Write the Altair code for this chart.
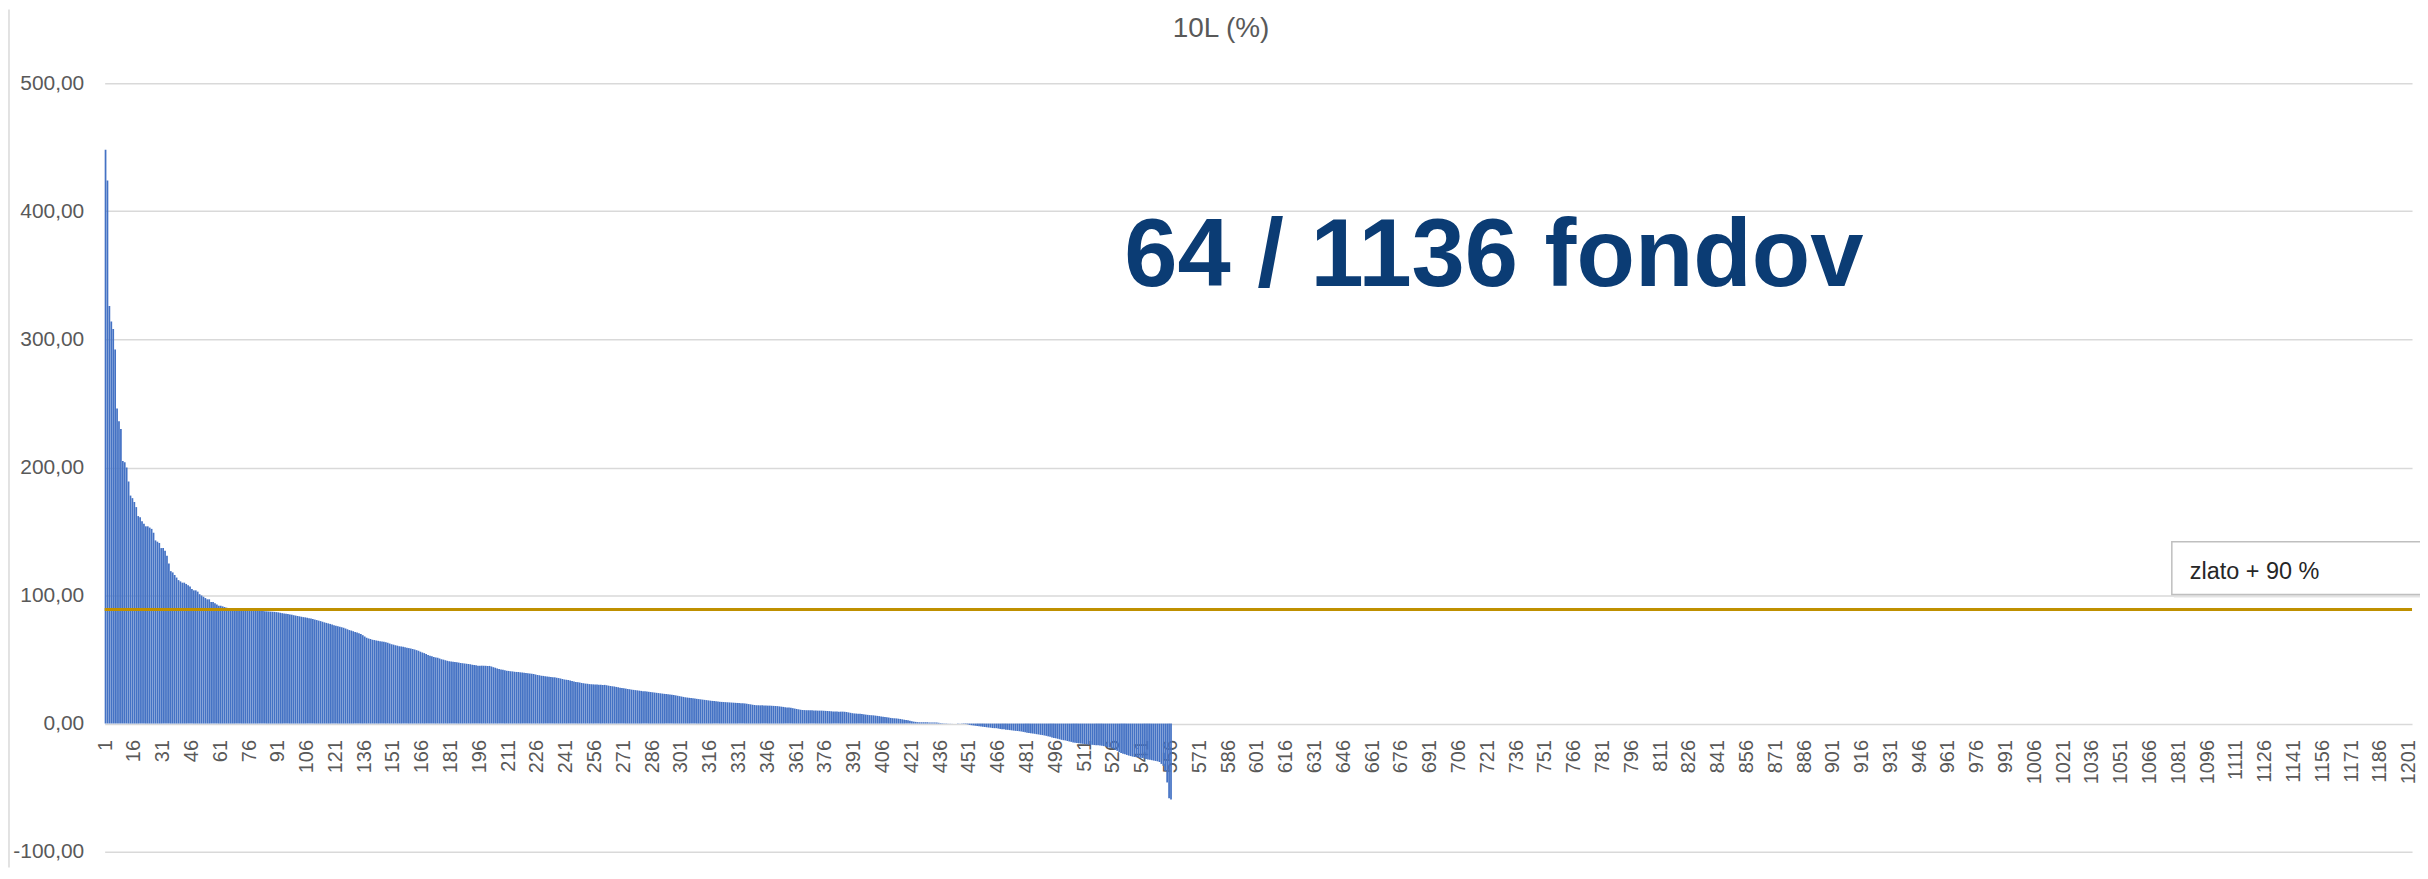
import altair as alt
import pandas as pd

# --- data (10-year return in %, funds sorted descending) ---
fund_returns = [
    448, 424, 326, 314, 308, 292, 246, 236, 230, 205,
    204, 200, 189, 178, 176, 173, 169, 162, 161, 158,
    156, 154, 154, 153, 152, 149, 143, 142, 141, 137,
    137, 135, 131, 125, 119, 118, 116, 114, 112, 111,
    110, 110, 109, 108, 107, 105, 104, 104, 103, 101,
    100, 99, 98, 97, 97, 95, 95, 94, 93, 92,
    92, 91.5, 91, 90.5, 89.3, 89.2, 89.1, 89.0, 88.9, 88.9,
    88.8, 88.7, 88.6, 88.5, 88.4, 88.3, 88.2, 88.1, 88.0, 88.0,
    88.0, 87.9, 87.8, 87.7, 87.6, 87.5, 87.4, 87.3, 87.2, 87.0,
    86.8, 86.5, 86.2, 86.0, 85.8, 85.5, 85.2, 85.0, 84.6, 84.3,
    84.0, 83.7, 83.4, 83.1, 82.9, 82.6, 82.3, 82.0, 81.6, 81.2,
    80.8, 80.4, 80.0, 79.5, 79.0, 78.6, 78.2, 77.8, 77.3, 76.8,
    76.4, 76.0, 75.6, 75.2, 74.8, 74.2, 73.6, 73.0, 72.6, 72.1,
    71.5, 71.0, 70.5, 70.0, 69.0, 68.0, 67.0, 66.5, 66.0, 65.5,
    65.2, 64.9, 64.6, 64.3, 64.0, 63.8, 63.5, 63.0, 62.5, 62.0,
    61.6, 61.2, 60.8, 60.4, 60.2, 60.0, 59.6, 59.2, 58.9, 58.6,
    58.2, 57.8, 57.3, 56.8, 56.1, 55.5, 55.0, 54.4, 53.5, 53.0,
    52.5, 52.0, 51.6, 51.3, 50.8, 50.3, 49.9, 49.5, 49.0, 48.7,
    48.5, 48.3, 48.1, 47.8, 47.6, 47.3, 47.1, 46.9, 46.7, 46.5,
    46.3, 46.0, 45.8, 45.5, 45.2, 45.2, 45.2, 45.1, 45.1, 45.0,
    45.0, 44.6, 44.0, 43.5, 43.0, 42.6, 42.3, 42.0, 41.6, 41.3,
    41.1, 40.9, 40.7, 40.5, 40.3, 40.2, 40.0, 39.8, 39.6, 39.5,
    39.3, 39.1, 38.9, 38.6, 38.3, 38.0, 37.7, 37.4, 37.2, 37.0,
    36.8, 36.6, 36.4, 36.2, 36.1, 35.8, 35.5, 35.1, 34.8, 34.4,
    34.2, 34.0, 33.6, 33.2, 32.8, 32.5, 32.3, 32.0, 31.7, 31.4,
    31.2, 31.0, 30.8, 30.7, 30.6, 30.5, 30.4, 30.3, 30.3, 30.2,
    30.2, 29.9, 29.6, 29.3, 29.1, 28.9, 28.6, 28.3, 28.0, 27.8,
    27.5, 27.3, 27.0, 26.8, 26.5, 26.3, 26.1, 25.9, 25.7, 25.5,
    25.3, 25.2, 25.0, 24.8, 24.6, 24.4, 24.2, 24.0, 23.8, 23.6,
    23.4, 23.2, 23.0, 22.8, 22.6, 22.5, 22.3, 22.0, 21.7, 21.4,
    21.1, 20.8, 20.5, 20.3, 20.1, 19.9, 19.7, 19.5, 19.3, 19.1,
    18.9, 18.7, 18.5, 18.3, 18.1, 17.9, 17.7, 17.6, 17.4, 17.2,
    17.0, 16.9, 16.8, 16.7, 16.6, 16.5, 16.4, 16.3, 16.2, 16.1,
    16.0, 15.9, 15.8, 15.7, 15.5, 15.2, 15.0, 14.7, 14.5, 14.3,
    14.3, 14.2, 14.2, 14.1, 14.1, 14.0, 14.0, 13.9, 13.8, 13.7,
    13.6, 13.4, 13.2, 13.0, 12.8, 12.6, 12.5, 12.3, 12.0, 11.7,
    11.4, 11.1, 10.8, 10.6, 10.5, 10.4, 10.4, 10.3, 10.3, 10.2,
    10.2, 10.1, 10.1, 10.1, 10.0, 9.9, 9.8, 9.7, 9.6, 9.5,
    9.4, 9.4, 9.3, 9.3, 9.3, 9.2, 9.0, 8.7, 8.4, 8.1,
    7.9, 7.8, 7.7, 7.6, 7.4, 7.2, 7.0, 6.8, 6.6, 6.5,
    6.4, 6.2, 6.0, 5.8, 5.6, 5.4, 5.2, 5.0, 4.7, 4.4,
    4.2, 4.1, 4.0, 3.8, 3.6, 3.3, 3.0, 2.8, 2.5, 2.2,
    1.8, 1.5, 1.3, 1.1, 1.0, 1.0, 1.0, 1.0, 1.0, 0.9,
    0.9, 0.9, 0.8, 0.8, 0.6, 0.4, 0.3, 0.2, 0.2, 0.1,
    0.1, 0.05, 0.0, -0.05, -0.1, -0.1, -0.2, -0.3, -0.4, -0.6,
    -1.0, -1.3, -1.5, -1.7, -1.9, -2.1, -2.3, -2.5, -2.7, -2.9,
    -3.1, -3.2, -3.5, -3.6, -3.6, -3.9, -4.2, -4.4, -4.5, -4.8,
    -4.9, -5.1, -5.3, -5.5, -5.7, -5.8, -6.0, -6.2, -6.5, -6.8,
    -7.1, -7.3, -7.6, -7.8, -8.0, -8.3, -8.5, -8.8, -9.0, -9.3,
    -9.6, -10.0, -10.4, -10.8, -11.2, -11.5, -11.9, -12.3, -12.7, -13.0,
    -13.2, -13.6, -14.0, -14.3, -14.7, -15.0, -15.2, -15.4, -15.6, -15.8,
    -16.0, -16.2, -16.4, -16.5, -16.6, -16.8, -16.9, -17.0, -17.1, -17.3,
    -17.6, -18.0, -18.4, -18.8, -19.2, -19.8, -20.5, -21.3, -22.2, -23.0,
    -23.5, -24.0, -24.5, -25.0, -25.4, -25.8, -26.1, -26.3, -26.5, -26.7,
    -26.9, -27.2, -27.6, -28.0, -28.3, -28.6, -28.9, -29.2, -29.5, -30.0,
    -31.5, -33.0, -37.0, -46.0, -58.3, -59.3,
]
fund_rank = list(range(1, len(fund_returns) + 1))
category_count = 1202
all_categories = list(range(1, category_count + 1))
x_tick_labels = list(range(1, category_count + 1, 15))
y_tick_values = [-100, 0, 100, 200, 300, 400, 500]
gold_return = [89.0]
chart_title = ["10L (%)"]
big_note = ["64 / 1136 fondov"]
box_note = ["zlato + 90 %"]

W, H = 2315, 771
PAD_L, PAD_T, PAD_R, PAD_B = 97, 74, 8, 16
FONT = "Liberation Sans"
GREY = "#595959"

df = pd.DataFrame({"rank": fund_rank, "value": fund_returns})
yscale = alt.Scale(domain=[-100, 500], nice=False, zero=False)
y_axis = alt.Axis(
    values=y_tick_values, grid=True, gridColor="#D9D9D9", gridWidth=1.5,
    domain=False, ticks=False, labelPadding=21, labelFontSize=21,
    labelColor=GREY, labelFont=FONT, title=None,
    labelExpr="(datum.value < 0 ? '-' : '') + replace(format(abs(datum.value), '.2f'), '.', ',')",
)

bars = alt.Chart(df).mark_bar(color="#4472C4").encode(
    x=alt.X(
        "rank:O",
        scale=alt.Scale(domain=all_categories, paddingInner=0.1, paddingOuter=0),
        axis=alt.Axis(
            values=x_tick_labels, labelAngle=-90, offset=-128.5, ticks=False,
            domain=False, grid=False, labelPadding=16, labelFontSize=20,
            labelColor=GREY, labelFont=FONT, labelOverlap=False, title=None,
        ),
    ),
    y=alt.Y("value:Q", scale=yscale, axis=y_axis),
)

gold = alt.Chart(pd.DataFrame({"value": gold_return})).mark_rule(
    color="#BF9000", strokeWidth=3
).encode(y=alt.Y("value:Q", scale=yscale, axis=y_axis))

box_shadow = alt.Chart(pd.DataFrame({"t": box_note})).mark_rect(
    fill="#E3E3E3"
).encode(x=alt.value(2076), x2=alt.value(2330), y=alt.value(462), y2=alt.value(516))

box = alt.Chart(pd.DataFrame({"t": box_note})).mark_rect(
    fill="white", stroke="#BFBFBF", strokeWidth=1.5
).encode(x=alt.value(2074), x2=alt.value(2328), y=alt.value(460), y2=alt.value(513))

box_text = alt.Chart(pd.DataFrame({"t": box_note})).mark_text(
    align="left", baseline="alphabetic", font=FONT, fontSize=23.5, color="#262626"
).encode(x=alt.value(2092), y=alt.value(497), text="t:N")

big_text = alt.Chart(pd.DataFrame({"t": big_note})).mark_text(
    align="left", baseline="alphabetic", font=FONT, fontSize=96,
    fontWeight="bold", color="#0B3C74"
).encode(x=alt.value(1023), y=alt.value(203), text="t:N")

title_text = alt.Chart(pd.DataFrame({"t": chart_title})).mark_text(
    align="center", baseline="middle", font=FONT, fontSize=28, color=GREY
).encode(x=alt.value(1120), y=alt.value(-54), text="t:N")

left_border = alt.Chart(pd.DataFrame({"t": chart_title})).mark_rule(
    color="#D9D9D9", strokeWidth=1.5
).encode(x=alt.value(-96), y=alt.value(-PAD_T), y2=alt.value(H + PAD_B))

chart = alt.layer(
    bars, gold, box_shadow, box, box_text, big_text, title_text, left_border
).properties(
    width=W, height=H,
    padding={"left": PAD_L, "top": PAD_T, "right": PAD_R, "bottom": PAD_B},
    autosize=alt.AutoSizeParams(type="none"),
    background="white",
).configure_view(stroke=None)

chart.save("out.html", embed_options={"renderer": "svg", "actions": False})
